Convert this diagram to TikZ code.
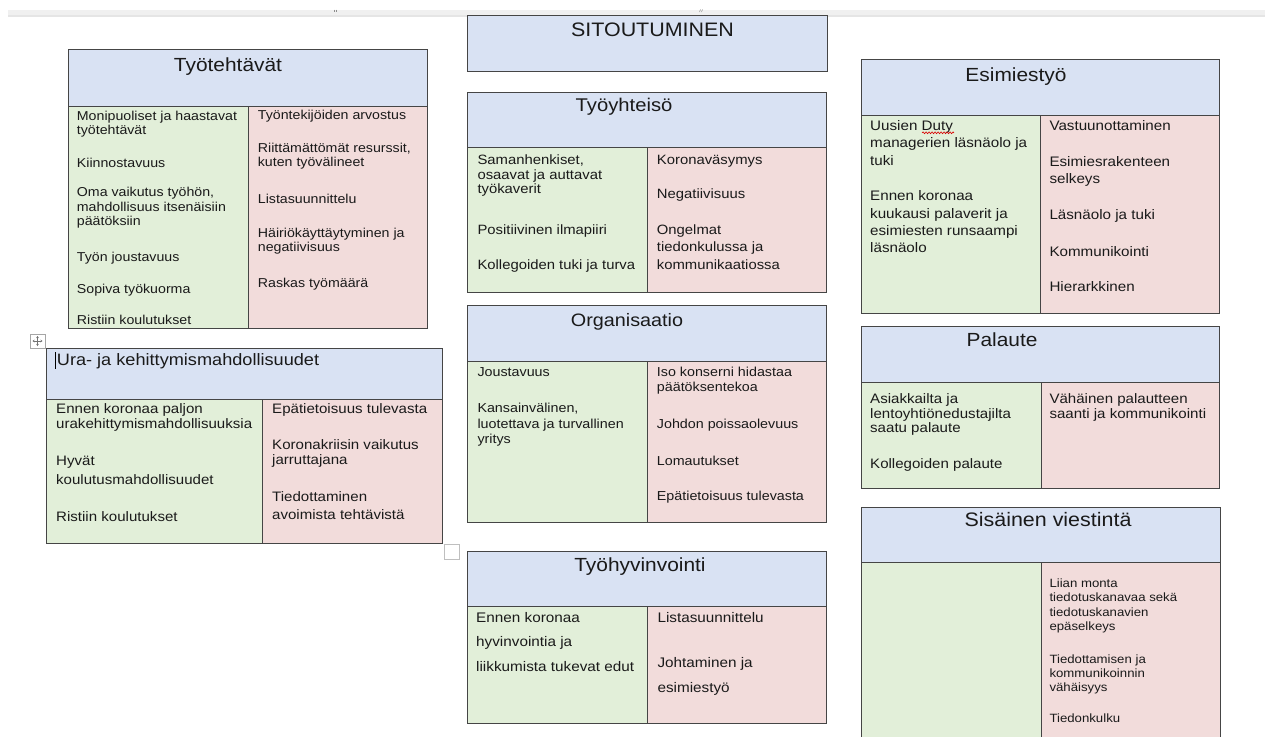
\documentclass[tikz,border=0pt]{standalone}
\usepackage{fontspec}
\setmainfont{Liberation Sans}[FakeStretch=1.1]
\usetikzlibrary{calc,decorations.pathmorphing,arrows.meta}
\definecolor{hdrc}{HTML}{D9E2F3}
\definecolor{posc}{HTML}{E2EFD9}
\definecolor{negc}{HTML}{F2DCDB}
\definecolor{bordc}{HTML}{454545}
\definecolor{txtc}{HTML}{1A1A1A}
\newcommand\fsz[1]{\fontsize{#1}{#1}\selectfont}
\newcommand\panel[6]{%
  \fill[hdrc] (#1,#2) rectangle (#5,#3);
  \fill[posc] (#1,#3) rectangle (#4,#6);
  \fill[negc] (#4,#3) rectangle (#5,#6);
  \draw[bord] (#1,#2) rectangle (#5,#6);
  \draw[bord] (#1,#3) -- (#5,#3);
  \draw[bord] (#4,#3) -- (#4,#6);}
\tikzset{
  bord/.style={draw=bordc, line width=0.9pt},
  txt/.style={anchor=base west, inner sep=0pt, text=txtc},
  ttl/.style={anchor=base, inner sep=0pt, text=txtc},
}
\begin{document}
\begin{tikzpicture}[x=1pt,y=-1pt]
\useasboundingbox (0,0) rectangle (1265,736);
\clip (0,0) rectangle (1265,736);
\fill[white] (0,0) rectangle (1265,736);
% top bar
\fill[black!6] (8,9.5) rectangle (1265,15);
\fill[black!10] (8,15) rectangle (1265,16.5);
\draw[black!45, line width=0.5pt] (334,9.5) -- (334,12) (336.5,9.5) -- (336.5,12);
\draw[black!45, line width=0.5pt] (699.5,12) -- (700.5,9.5) (701.5,12) -- (702.5,9.5);

% SITOUTUMINEN
\fill[hdrc] (467,15) rectangle (827,71);
\draw[bord] (467,15) rectangle (827,71);
\node[ttl, font=\fsz{19.5}] (sit) at (652.5,36) {SITOUTUMINEN};

% Tyotehtavat
\panel{68.3}{49.3}{106}{248.3}{427}{328}
\node[ttl, font=\fsz{19}] (tt) at (228,71.7) {Työtehtävät};
\begin{scope}[font=\fsz{12.9}]
\node[txt] (tt1) at (76.7,120) {Monipuoliset ja haastavat};
\node[txt] (tt2) at (76.7,134.3) {työtehtävät};
\node[txt] (tt3) at (76.7,167.7) {Kiinnostavuus};
\node[txt] (tt4) at (76.7,196.7) {Oma vaikutus työhön,};
\node[txt] (tt5) at (76.7,211) {mahdollisuus itsenäisiin};
\node[txt] (tt6) at (76.7,225) {päätöksiin};
\node[txt] (tt7) at (76.7,261) {Työn joustavuus};
\node[txt] (tt8) at (76.7,293.3) {Sopiva työkuorma};
\node[txt] (tt9) at (76.7,324.3) {Ristiin koulutukset};
\node[txt] (tr1) at (257.7,119) {Työntekijöiden arvostus};
\node[txt] (tr2) at (257.7,152.3) {Riittämättömät resurssit,};
\node[txt] (tr3) at (257.7,166.7) {kuten työvälineet};
\node[txt] (tr4) at (257.7,203.3) {Listasuunnittelu};
\node[txt] (tr5) at (257.7,237.7) {Häiriökäyttäytyminen ja};
\node[txt] (tr6) at (257.7,251.7) {negatiivisuus};
\node[txt] (tr7) at (257.7,287.7) {Raskas työmäärä};
\end{scope}

% move icon
\draw[black!35, line width=0.7pt] (30,334) rectangle (45,348);
\draw[black!55, line width=0.6pt, -{Stealth[length=2pt,width=2.5pt]}] (37.5,341) -- (37.5,336);
\draw[black!55, line width=0.6pt, -{Stealth[length=2pt,width=2.5pt]}] (37.5,341) -- (37.5,346);
\draw[black!55, line width=0.6pt, -{Stealth[length=2pt,width=2.5pt]}] (37.5,341) -- (32.5,341);
\draw[black!55, line width=0.6pt, -{Stealth[length=2pt,width=2.5pt]}] (37.5,341) -- (42.5,341);

% Ura
\panel{46.7}{348.3}{399}{262.7}{442.7}{543.3}
\node[txt, font=\fsz{16.5}] (ura) at (56.7,365) {Ura- ja kehittymismahdollisuudet};
\draw[black, line width=0.7pt] (55.5,352) -- (55.5,369);
\begin{scope}[font=\fsz{13.7}]
\node[txt] (ul1) at (56,413.3) {Ennen koronaa paljon};
\node[txt] (ul2) at (56,428.3) {urakehittymismahdollisuuksia};
\node[txt] (ul3) at (56,465) {Hyvät};
\node[txt] (ul4) at (56,484) {koulutusmahdollisuudet};
\node[txt] (ul5) at (56,521) {Ristiin koulutukset};
\node[txt] (ur1) at (272,413.3) {Epätietoisuus tulevasta};
\node[txt] (ur2) at (272,449) {Koronakriisin vaikutus};
\node[txt] (ur3) at (272,464.3) {jarruttajana};
\node[txt] (ur4) at (272,501.7) {Tiedottaminen};
\node[txt] (ur5) at (272,519.3) {avoimista tehtävistä};
\end{scope}

% Tyoyhteiso
\panel{467.3}{92.3}{147.7}{647.3}{826.7}{292.3}
\node[ttl, font=\fsz{18.4}] (ty) at (624,111.7) {Työyhteisö};
\begin{scope}[font=\fsz{13.5}]
\node[txt] (yl1) at (477.3,164.3) {Samanhenkiset,};
\node[txt] (yl2) at (477.3,179) {osaavat ja auttavat};
\node[txt] (yl3) at (477.3,193.3) {työkaverit};
\node[txt] (yl4) at (477.3,234.3) {Positiivinen ilmapiiri};
\node[txt] (yl5) at (477.3,269.5) {Kollegoiden tuki ja turva};
\node[txt] (yr1) at (656.7,164.3) {Koronaväsymys};
\node[txt] (yr2) at (656.7,198.3) {Negatiivisuus};
\node[txt] (yr3) at (656.7,234.3) {Ongelmat};
\node[txt] (yr4) at (656.7,251) {tiedonkulussa ja};
\node[txt] (yr5) at (656.7,269.5) {kommunikaatiossa};
\end{scope}

% Organisaatio
\panel{467.3}{305}{361}{647.7}{826.7}{522.7}
\node[ttl, font=\fsz{18}] (org) at (627,326) {Organisaatio};
\begin{scope}[font=\fsz{13}]
\node[txt] (ol1) at (477.3,376) {Joustavuus};
\node[txt] (ol2) at (477.3,412.7) {Kansainvälinen,};
\node[txt] (ol3) at (477.3,428.3) {luotettava ja turvallinen};
\node[txt] (ol4) at (477.3,443.3) {yritys};
\node[txt] (or1) at (656.7,376) {Iso konserni hidastaa};
\node[txt] (or2) at (656.7,391.7) {päätöksentekoa};
\node[txt] (or3) at (656.7,428.3) {Johdon poissaolevuus};
\node[txt] (or4) at (656.7,465) {Lomautukset};
\node[txt] (or5) at (656.7,500) {Epätietoisuus tulevasta};
\end{scope}

% small square
\draw[black!25, line width=1.3pt] (444.5,544.5) rectangle (459.5,559.5);

% Tyohyvinvointi
\panel{467.3}{551.7}{606.7}{647.3}{826.7}{723.3}
\node[ttl, font=\fsz{19}] (hy) at (640,571.7) {Työhyvinvointi};
\begin{scope}[font=\fsz{13.9}]
\node[txt] (hl1) at (476,622.3) {Ennen koronaa};
\node[txt] (hl2) at (476,646.7) {hyvinvointia ja};
\node[txt] (hl3) at (476,671.7) {liikkumista tukevat edut};
\node[txt] (hr1) at (657.3,622.3) {Listasuunnittelu};
\node[txt] (hr2) at (657.3,667.3) {Johtaminen ja};
\node[txt] (hr3) at (657.3,692.3) {esimiestyö};
\end{scope}

% Esimiestyo
\panel{861}{59}{115}{1040}{1219}{313.3}
\node[ttl, font=\fsz{19}] (es) at (1016,81) {Esimiestyö};
\begin{scope}[font=\fsz{13.8}]
\node[txt] (el1) at (870,130) {Uusien Duty};
\node[txt] (el2) at (870,147.7) {managerien läsnäolo ja};
\node[txt] (el3) at (870,165) {tuki};
\node[txt] (el4) at (870,200.7) {Ennen koronaa};
\node[txt] (el5) at (870,218.3) {kuukausi palaverit ja};
\node[txt] (el6) at (870,235.7) {esimiesten runsaampi};
\node[txt] (el7) at (870,252.3) {läsnäolo};
\node[txt] (er1) at (1049.3,130) {Vastuunottaminen};
\node[txt] (er2) at (1049.3,166) {Esimiesrakenteen};
\node[txt] (er3) at (1049.3,183.3) {selkeys};
\node[txt] (er4) at (1049.3,219.3) {Läsnäolo ja tuki};
\node[txt] (er5) at (1049.3,256) {Kommunikointi};
\node[txt] (er6) at (1049.3,291) {Hierarkkinen};
\end{scope}
\draw[red!85!black, line width=0.6pt, decorate, decoration={snake, amplitude=0.9pt, segment length=3pt}]
  ($(el1.base east)+(-31,2.8)$) -- ($(el1.base east)+(1,2.8)$);

% Palaute
\panel{861}{326}{382.3}{1041}{1219}{488.3}
\node[ttl, font=\fsz{19}] (pa) at (1002,346.7) {Palaute};
\begin{scope}[font=\fsz{13.7}]
\node[txt] (pl1) at (870,403.3) {Asiakkailta ja};
\node[txt] (pl2) at (870,418.3) {lentoyhtiönedustajilta};
\node[txt] (pl3) at (870,432.7) {saatu palaute};
\node[txt] (pl4) at (870,468.3) {Kollegoiden palaute};
\node[txt] (pr1) at (1049.3,403.3) {Vähäinen palautteen};
\node[txt] (pr2) at (1049.3,418.3) {saanti ja kommunikointi};
\end{scope}

% Sisainen viestinta
\panel{861}{507.3}{562.7}{1041}{1220}{745}
\node[ttl, font=\fsz{19.5}] (si) at (1048,526.7) {Sisäinen viestintä};
\begin{scope}[font=\fsz{12}]
\node[txt] (sr1) at (1049.3,587.3) {Liian monta};
\node[txt] (sr2) at (1049.3,601.7) {tiedotuskanavaa sekä};
\node[txt] (sr3) at (1049.3,616) {tiedotuskanavien};
\node[txt] (sr4) at (1049.3,630) {epäselkeys};
\node[txt] (sr5) at (1049.3,663.3) {Tiedottamisen ja};
\node[txt] (sr6) at (1049.3,677.7) {kommunikoinnin};
\node[txt] (sr7) at (1049.3,691.7) {vähäisyys};
\node[txt] (sr8) at (1049.3,722.7) {Tiedonkulku};
\end{scope}
\end{tikzpicture}
\end{document}
